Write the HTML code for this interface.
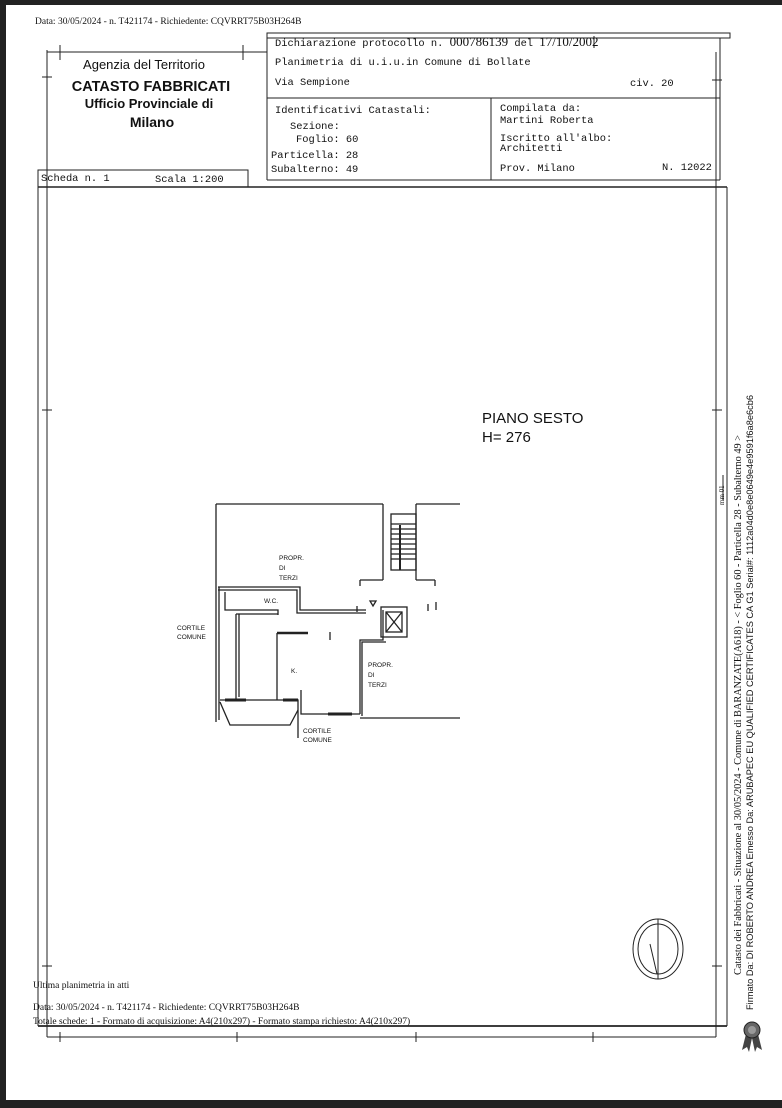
<!DOCTYPE html>
<html><head><meta charset="utf-8"><style>
html,body{margin:0;padding:0;background:#fff;}
svg{display:block;}
.m{font-family:"Liberation Mono",monospace;font-size:10.4px;fill:#111;}
.s{font-family:"Liberation Serif",serif;fill:#111;}
.a{font-family:"Liberation Sans",sans-serif;fill:#111;}
</style></head><body>
<svg width="782" height="1108" viewBox="0 0 782 1108" xmlns="http://www.w3.org/2000/svg">
<rect x="0" y="0" width="782" height="1108" fill="#fff"/>
<rect x="0" y="0" width="782" height="5" fill="#222"/>
<rect x="0" y="0" width="6" height="1108" fill="#222"/>
<rect x="0" y="1100" width="782" height="8" fill="#222"/>
<g stroke="#222" fill="none" stroke-width="1">
<line x1="47" y1="50" x2="47" y2="1037"/>
<line x1="47" y1="52" x2="267" y2="52"/>
<line x1="47" y1="1037" x2="716" y2="1037"/>
<line x1="716" y1="52" x2="716" y2="1037"/>
<line x1="720" y1="52" x2="720" y2="80"/>
<rect x="267" y="33" width="463" height="5"/>
<line x1="267" y1="33" x2="267" y2="180"/>
<line x1="720" y1="38" x2="720" y2="180"/>
<line x1="267" y1="98" x2="720" y2="98"/>
<line x1="491" y1="98" x2="491" y2="180"/>
<line x1="267" y1="180" x2="720" y2="180"/>
<rect x="38" y="170" width="210" height="17"/>
<line x1="38" y1="187" x2="727" y2="187" stroke-width="1.5"/>
<line x1="38" y1="187" x2="38" y2="1026"/>
<line x1="727" y1="187" x2="727" y2="1026"/>
<line x1="38" y1="1026" x2="727" y2="1026" stroke-width="1.8"/>
<line x1="60" y1="45" x2="60" y2="60"/><line x1="243" y1="45" x2="243" y2="60"/>
<line x1="42" y1="77" x2="52" y2="77"/><line x1="712" y1="80" x2="722" y2="80"/>
<line x1="42" y1="410" x2="52" y2="410"/><line x1="712" y1="410" x2="722" y2="410"/>
<line x1="42" y1="966" x2="52" y2="966"/><line x1="712" y1="966" x2="722" y2="966"/>
<line x1="60" y1="1032" x2="60" y2="1042"/><line x1="237" y1="1032" x2="237" y2="1042"/>
<line x1="416" y1="1032" x2="416" y2="1042"/><line x1="593" y1="1032" x2="593" y2="1042"/>
<line x1="594" y1="36" x2="594" y2="48"/>
<line x1="723" y1="475" x2="723" y2="500"/>
<g stroke-width="1.3">
<line x1="216" y1="504" x2="383" y2="504"/>
<line x1="416" y1="504" x2="460" y2="504"/>
<line x1="216" y1="504" x2="216" y2="722"/>
<line x1="219" y1="587" x2="219" y2="720"/>
<line x1="360" y1="718" x2="460" y2="718"/>
<line x1="383" y1="504" x2="383" y2="580"/>
<line x1="416" y1="504" x2="416" y2="580"/>
<rect x="391" y="514" width="25" height="56"/>
<line x1="400" y1="525" x2="400" y2="570" stroke-width="2"/>
<line x1="391" y1="524" x2="416" y2="524"/><line x1="391" y1="529" x2="416" y2="529"/>
<line x1="391" y1="534" x2="416" y2="534"/><line x1="391" y1="539" x2="416" y2="539"/>
<line x1="391" y1="544" x2="416" y2="544"/><line x1="391" y1="549" x2="416" y2="549"/>
<line x1="391" y1="554" x2="416" y2="554"/><line x1="391" y1="559" x2="416" y2="559"/>
<line x1="360" y1="580" x2="383" y2="580"/><line x1="360" y1="580" x2="360" y2="586"/>
<line x1="416" y1="580" x2="435" y2="580"/><line x1="435" y1="580" x2="435" y2="586"/>
<polyline points="218,587 300,587 300,610 366,610"/>
<polyline points="218,590 297,590 297,613 366,613"/>
<polyline points="225,592 225,610 278,610 278,615"/>
<polyline points="236,614 236,700 246,700"/>
<polyline points="239,614 239,697"/>
<line x1="236" y1="614" x2="278" y2="614"/>
<line x1="277" y1="633" x2="308" y2="633" stroke-width="2.5"/>
<line x1="277" y1="633" x2="277" y2="700"/>
<polyline points="220,700 298,700 298,738"/>
<polyline points="220,702 230,725 290,725 298,710"/>
<line x1="225" y1="700" x2="246" y2="700" stroke-width="3"/>
<line x1="283" y1="700" x2="298" y2="700" stroke-width="3"/>
<polyline points="301,690 301,714 360,714"/>
<line x1="328" y1="714" x2="352" y2="714" stroke-width="3"/>
<polyline points="360,714 360,640 383,640 383,610"/>
<polyline points="362,716 362,642 386,642"/>
<rect x="381" y="607" width="26" height="30"/>
<rect x="386" y="612" width="16" height="20"/>
<line x1="386" y1="612" x2="402" y2="632"/><line x1="402" y1="612" x2="386" y2="632"/>
<line x1="330" y1="632" x2="330" y2="640"/>
<line x1="357" y1="606" x2="357" y2="612"/><line x1="436" y1="602" x2="436" y2="610"/>
<line x1="428" y1="604" x2="428" y2="611"/>
<path d="M370,601 h6 l-3,5 z"/>
</g>
<ellipse cx="658" cy="949" rx="25" ry="30"/>
<ellipse cx="658" cy="949" rx="20" ry="25"/>
<line x1="658" y1="919" x2="658" y2="979"/>
<line x1="650" y1="944" x2="657" y2="974"/>
</g>
<text class="s" x="35" y="24" font-size="9.5">Data: 30/05/2024 - n. T421174 - Richiedente: CQVRRT75B03H264B</text>
<text class="a" x="144" y="69" font-size="13" text-anchor="middle">Agenzia del Territorio</text>
<text class="a" x="151" y="91" font-size="14.5" font-weight="bold" text-anchor="middle">CATASTO FABBRICATI</text>
<text class="a" x="149" y="108" font-size="13" font-weight="bold" text-anchor="middle">Ufficio Provinciale di</text>
<text class="a" x="152" y="127" font-size="14" font-weight="bold" text-anchor="middle">Milano</text>
<text class="m" x="275" y="46">Dichiarazione protocollo n. <tspan class="s" font-size="13">000786139</tspan> del <tspan class="s" font-size="13">17/10/2002</tspan></text>
<text class="m" x="275" y="65">Planimetria di u.i.u.in Comune di Bollate</text>
<text class="m" x="275" y="85">Via Sempione</text>
<text class="m" x="630" y="86">civ. 20</text>
<text class="m" x="275" y="113">Identificativi Catastali:</text>
<text class="m" x="290" y="129">Sezione:</text>
<text class="m" x="296" y="142">Foglio: 60</text>
<text class="m" x="271" y="158">Particella: 28</text>
<text class="m" x="271" y="172">Subalterno: 49</text>
<text class="m" x="500" y="111">Compilata da:</text>
<text class="m" x="500" y="123">Martini Roberta</text>
<text class="m" x="500" y="141">Iscritto all'albo:</text>
<text class="m" x="500" y="151">Architetti</text>
<text class="m" x="500" y="171">Prov. Milano</text>
<text class="m" x="662" y="170">N. 12022</text>
<text class="m" x="41" y="181">Scheda n. 1</text>
<text class="m" x="155" y="182">Scala 1:200</text>
<text class="a" x="482" y="423" font-size="15">PIANO SESTO</text>
<text class="a" x="482" y="442" font-size="15">H= 276</text>
<g class="a" font-size="6.5">
<text x="279" y="560">PROPR.</text><text x="279" y="570">DI</text><text x="279" y="580">TERZI</text>
<text x="264" y="603">W.C.</text>
<text x="177" y="630">CORTILE</text><text x="177" y="639">COMUNE</text>
<text x="291" y="673">K.</text>
<text x="368" y="667">PROPR.</text><text x="368" y="677">DI</text><text x="368" y="687">TERZI</text>
<text x="303" y="733">CORTILE</text><text x="303" y="742">COMUNE</text>
</g>
<text class="s" x="33" y="988" font-size="9.5">Ultima planimetria in atti</text>
<text class="s" x="33" y="1010" font-size="9.5">Data: 30/05/2024 - n. T421174 - Richiedente: CQVRRT75B03H264B</text>
<text class="s" x="33" y="1024" font-size="9.5">Totale schede: 1 - Formato di acquisizione: A4(210x297)  - Formato stampa richiesto: A4(210x297)</text>
<text class="s" font-size="10.2" transform="translate(741,975) rotate(-90)" textLength="540" lengthAdjust="spacingAndGlyphs">Catasto dei Fabbricati - Situazione al 30/05/2024 - Comune di BARANZATE(A618) - &lt; Foglio 60 - Particella 28 - Subalterno 49 &gt;</text>
<text class="a" font-size="9.3" transform="translate(753,1010) rotate(-90)" textLength="615" lengthAdjust="spacingAndGlyphs">Firmato Da: DI ROBERTO ANDREA Emesso Da: ARUBAPEC EU QUALIFIED CERTIFICATES CA G1 Serial#: 1112a04d0e8e0649e4e9591f6a8e6cb6</text>
<text class="s" font-size="7" transform="translate(724,505) rotate(-90)">mm 01</text>
<g transform="translate(752,1030)">
<path d="M-6,4 L-10,20 L-5,17 L-3,22 L0,8 L3,22 L5,17 L10,20 L6,4 Z" fill="#444"/>
<circle cx="0" cy="0" r="8" fill="#666" stroke="#222"/>
<circle cx="0" cy="0" r="4" fill="#999"/>
</g>
</svg>
</body></html>
